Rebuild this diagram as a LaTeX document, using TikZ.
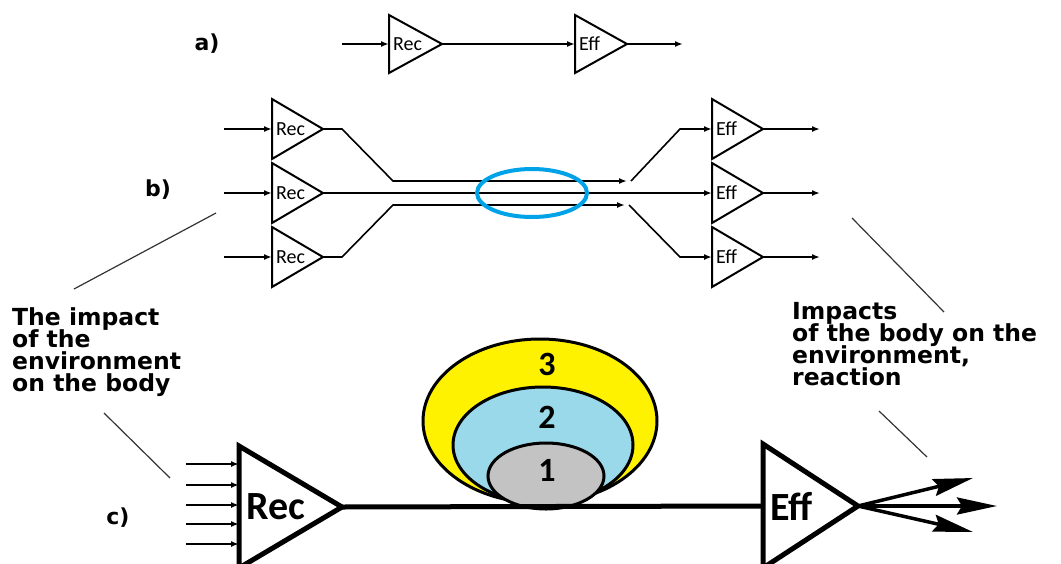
\documentclass[tikz,border=0pt]{standalone}
\usepackage{fontspec}
\usetikzlibrary{arrows.meta, positioning, calc}
\newfontfamily\labelfont{DejaVu Sans}
\newfontfamily\ampfont{Carlito}
\definecolor{pyellow}{RGB}{255,242,0}
\definecolor{pblue}{RGB}{153,217,234}
\definecolor{pgray}{RGB}{195,195,195}
\definecolor{pcyan}{RGB}{0,162,232}

% amplifier triangle: name, left x, mid y, width, half height, line width, label
\newcommand{\ampbox}[7]{%
  \draw[line width=#6pt] (#2,#3-#5) -- (#2,#3+#5) -- (#2+#4,#3) -- cycle;
  \coordinate (#1-in) at (#2,#3);
  \coordinate (#1-out) at (#2+#4,#3);
  \node[anchor=west, inner sep=0pt] (#1) at (#2+#6+2,#3) {#7};
}
\newcommand{\tightlines}{\setlength{\lineskiplimit}{-30pt}}

\begin{document}
\begin{tikzpicture}[x=1pt, y=-1pt, >={Latex[length=8pt, width=6pt]},
  wire/.style={line width=1.6pt},
  lead/.style={black!80, line width=1.2pt},
  part/.style={font=\labelfont\bfseries\fontsize{22}{24}\selectfont},
  txt/.style={font={\labelfont\bfseries\fontsize{23.5}{22}\selectfont\tightlines},
    inner sep=0pt, align=left, anchor=north west},
  num/.style={font=\ampfont\bfseries\fontsize{34}{36}\selectfont}]

\useasboundingbox (0,0) rectangle (1061,563);

% a) one receptor, one effector
\node[part] (lblA) at (207,44) {a)};
\ampbox{ra}{389}{44}{53}{29}{2}{\ampfont\fontsize{20}{22}\selectfont Rec}
\ampbox{ea}{575}{44}{52}{29}{2}{\ampfont\fontsize{20}{22}\selectfont Eff}
\coordinate (ina) at (342,44);
\coordinate (outa) at (683,44);
\draw[wire,->] (ina) -- (ra-in);
\draw[wire,->] (ra-out) -- (ea-in);
\draw[wire,->] (ea-out) -- (outa);

% b) three channels through one bundle
\node[part] (lblB) at (158,190) {b)};
\foreach \i/\y in {1/129, 2/193, 3/257} {
  \ampbox{rb\i}{272}{\y}{51}{30}{2}{\ampfont\fontsize{20}{22}\selectfont Rec}
  \ampbox{eb\i}{712}{\y}{51}{30}{2}{\ampfont\fontsize{20}{22}\selectfont Eff}
  \coordinate (inb\i) at (224,\y);
  \coordinate (outb\i) at (820,\y);
  \draw[wire,->] (inb\i) -- (rb\i-in);
  \draw[wire,->] (eb\i-out) -- (outb\i);
}

% bends of the upper and lower channel
\coordinate (b1a) at (342,129);
\coordinate (b1b) at (393,181);
\coordinate (b1c) at (627,181);
\coordinate (b1d) at (631,181);
\coordinate (b1e) at (680,129);
\coordinate (b3a) at (342,257);
\coordinate (b3b) at (393,205);
\coordinate (b3c) at (625,205);
\coordinate (b3d) at (629,205);
\coordinate (b3e) at (680,257);

\draw[wire,->] (rb1-out) -- (b1a) -- (b1b) -- (b1c);
\draw[wire,->] (b1d) -- (b1e) -- (eb1-in);
\draw[wire,->] (rb2-out) -- (eb2-in);
\draw[wire,->] (rb3-out) -- (b3a) -- (b3b) -- (b3c);
\draw[wire,->] (b3d) -- (b3e) -- (eb3-in);

% bundle ring
\draw[pcyan, line width=4pt] (532,193) ellipse [x radius=55, y radius=24];

% c) the body between receptor and effector
\node[part] (lblC) at (118,518) {c)};
\ampbox{rc}{239}{507}{103}{61}{5}{\ampfont\bfseries\fontsize{40}{44}\selectfont Rec}
\ampbox{ec}{763}{506}{95}{62}{5}{\ampfont\bfseries\fontsize{40}{44}\selectfont Eff}

\foreach \k/\y in {1/464, 2/485, 3/505, 4/524, 5/544} {
  \coordinate (inc\k) at (186,\y);
  \coordinate (rcin\k) at (239,\y);
  \draw[wire,->] (inc\k) -- (rcin\k);
}

% nested levels
\filldraw[fill=pyellow, line width=3pt] (540,421) ellipse [x radius=117, y radius=82];
\filldraw[fill=pblue, line width=3pt] (543,445) ellipse [x radius=90, y radius=58];
\filldraw[fill=pgray, line width=3pt] (546,476) ellipse [x radius=58, y radius=33];
\node[num] (lev3) at (547,364) {3};
\node[num] (lev2) at (547,417) {2};
\node[num] (lev1) at (547,470) {1};

\draw[line width=5pt] (rc-out) -- (ec-in);

% reactions
\coordinate (outc1) at (973,478);
\coordinate (outc2) at (997,506);
\coordinate (outc3) at (973,532);
\foreach \k in {1,2,3}
  \draw[line width=3.5pt, -{Stealth[length=40pt, width=17pt, inset=5pt]}] (ec-out) -- (outc\k);

% captions and leader lines
\node[txt] (envtext) at (12,307) {The impact\\of the\\environment\\on the body};
\node[txt] (bodytext) at (792,302) {Impacts\\of the body on the\\environment,\\reaction};

\coordinate (envA) at (216,213);
\coordinate (envB) at (74,289);
\coordinate (envC) at (104,413);
\coordinate (envD) at (170,478);
\coordinate (bodyA) at (852,218);
\coordinate (bodyB) at (944,312);
\coordinate (bodyC) at (879,411);
\coordinate (bodyD) at (927,457);
\draw[lead] (envA) -- (envB);
\draw[lead] (envC) -- (envD);
\draw[lead] (bodyA) -- (bodyB);
\draw[lead] (bodyC) -- (bodyD);

\end{tikzpicture}
\end{document}
